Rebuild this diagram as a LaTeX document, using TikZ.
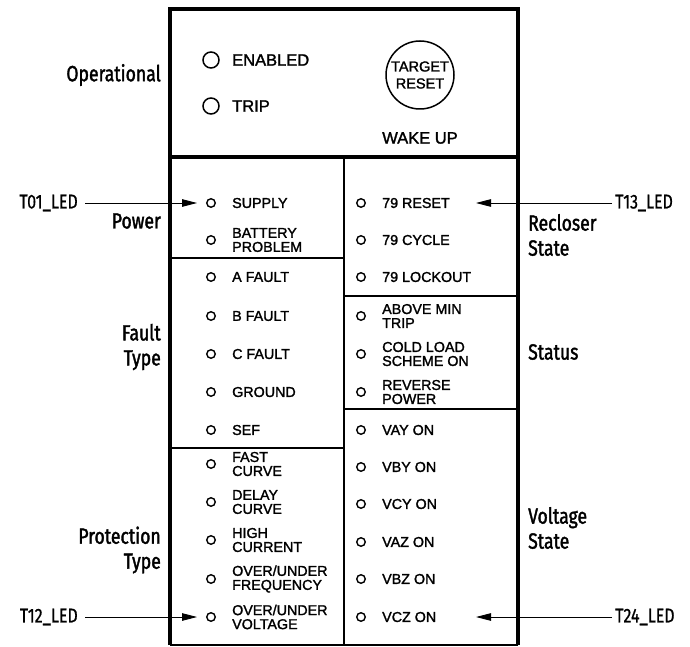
\documentclass[tikz,border=0pt]{standalone}
\usepackage{fontspec}
\setmainfont{Liberation Sans}[BoldFont={*}, BoldFeatures={FakeBold=1.6}]
\newfontfamily\grpfont{Fira Sans}[FakeStretch=0.8, BoldFont={*}, BoldFeatures={FakeBold=1.6, FakeStretch=0.8}]
\newfontfamily\pinfont{Fira Sans}[FakeStretch=0.8, BoldFont={*}, BoldFeatures={FakeBold=0.8, FakeStretch=0.8}]
\usetikzlibrary{arrows.meta}

\begin{document}
\begin{tikzpicture}[x=1pt,y=-1pt,
  led/.style={circle, draw, line width=1.4pt, inner sep=0pt, minimum size=8.5pt},
  bigled/.style={circle, draw, line width=1.5pt, inner sep=0pt, minimum size=16pt},
  resetbtn/.style={circle, draw, line width=1.5pt, inner sep=0pt, minimum size=68pt},
  ledtext/.style={anchor=west, inner sep=0pt, align=left, font=\bfseries\fontsize{14.3}{14}\selectfont},
  toptext/.style={inner sep=0pt, align=center, font=\bfseries\fontsize{16.5}{17.5}\selectfont},
  grpleft/.style={anchor=east, inner sep=0pt, align=right, font=\grpfont\bfseries\fontsize{22}{25}\selectfont},
  grpright/.style={anchor=west, inner sep=0pt, align=left, font=\grpfont\bfseries\fontsize{22}{25}\selectfont},
  pinname/.style={inner sep=0pt, font=\pinfont\bfseries\fontsize{20}{22}\selectfont},
  frame/.style={line width=4pt},
  divider/.style={line width=1.8pt},
  pointer/.style={line width=0.9pt, -{Triangle[length=15pt,width=7.5pt]}}]

  \useasboundingbox (0,0) rectangle (690,647);

  % panel
  \draw[frame] (170,645) -- (170,9.5) -- (518,9.5) -- (518,645);
  \draw[frame] (170,157) -- (518,157);
  \draw[divider] (170,645) -- (518,645);
  \draw[divider] (344,157) -- (344,645);
  \draw[divider] (170,258) -- (344,258);
  \draw[divider] (170,448) -- (344,448);
  \draw[divider] (344,296) -- (518,296);
  \draw[divider] (344,409) -- (518,409);

  % operational section
  \node[bigled] (enabled) at (211,60) {};
  \node[toptext, anchor=west] at (232,60) {ENABLED};
  \node[bigled] (trip) at (211,106) {};
  \node[toptext, anchor=west] at (232,106) {TRIP};
  \node[resetbtn] (reset) at (420,75) {};
  \node[toptext, font=\bfseries\fontsize{14.5}{17}\selectfont] at (reset) {TARGET\\RESET};
  \node[toptext] (wake) at (420,138) {WAKE UP};

  % left column
  \foreach \y/\txt/\nm in {203/SUPPLY/a1, 240/{BATTERY\\PROBLEM}/a2, 277/A FAULT/a3,
      316/B FAULT/a4, 354/C FAULT/a5, 392/GROUND/a6, 430/SEF/a7,
      464/{FAST\\CURVE}/a8, 502/{DELAY\\CURVE}/a9, 540/{HIGH\\CURRENT}/a10,
      579/{OVER/UNDER\\FREQUENCY}/a11, 617/{OVER/UNDER\\VOLTAGE}/a12}{
    \node[led] (\nm) at (211,\y) {};
    \node[ledtext] at (232,\y) {\txt};
  }

  % right column
  \foreach \y/\txt/\nm in {203/79 RESET/b1, 240/79 CYCLE/b2, 277/79 LOCKOUT/b3,
      316/{ABOVE MIN\\TRIP}/b4, 354/{COLD LOAD\\SCHEME ON}/b5, 392/{REVERSE\\POWER}/b6,
      430/VAY ON/b7, 467/VBY ON/b8, 504/VCY ON/b9, 542/VAZ ON/b10,
      579/VBZ ON/b11, 617/VCZ ON/b12}{
    \node[led] (\nm) at (361,\y) {};
    \node[ledtext] at (382,\y) {\txt};
  }

  % group labels
  \node[grpleft] at (161,75) {Operational};
  \node[grpleft] at (161,221) {Power};
  \node[grpleft] at (161,347) {Fault\\Type};
  \node[grpleft] at (161,550) {Protection\\Type};
  \node[grpright] at (528,235) {Recloser\\State};
  \node[grpright] at (528,352) {Status};
  \node[grpright] at (528,528) {Voltage\\State};

  % led names
  \node[pinname, anchor=east] (t01) at (78,203) {T01\_LED};
  \node[pinname, anchor=east] (t12) at (78,617) {T12\_LED};
  \node[pinname, anchor=west] (t13) at (615,203) {T13\_LED};
  \node[pinname, anchor=west] (t24) at (615,617) {T24\_LED};
  \coordinate (b1tip) at (476,203);
  \coordinate (b12tip) at (476,617);

  \draw[pointer, shorten <=7pt, shorten >=9pt] (t01) -- (a1);
  \draw[pointer, shorten <=7pt, shorten >=9pt] (t12) -- (a12);
  \draw[pointer, shorten <=3pt] (t13) -- (b1tip);
  \draw[pointer, shorten <=3pt] (t24) -- (b12tip);
\end{tikzpicture}
\end{document}
